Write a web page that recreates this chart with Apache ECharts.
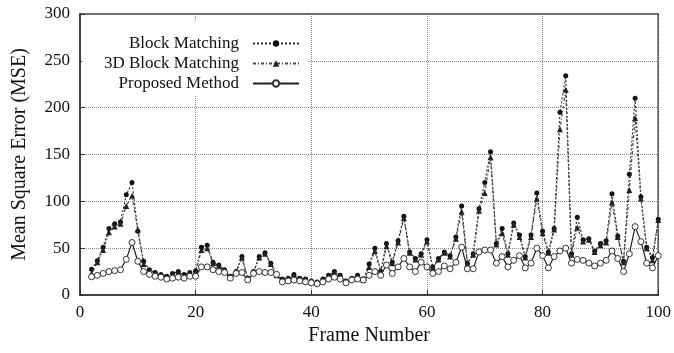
<!DOCTYPE html>
<html>
<head>
<meta charset="utf-8">
<script src="https://cdn.jsdelivr.net/npm/echarts@6/dist/echarts.min.js"></script>
<style>
  html, body { margin: 0; padding: 0; background: #fff; }
  #main { width: 674px; height: 353px; }
</style>
</head>
<body>
<div id="main"></div>
<script>
// frames 2..100
const frames = [];
for (let f = 2; f <= 100; f++) frames.push(f);

const blockMatching = [
  27.6, 36.5, 51, 71, 76, 78, 107, 120, 68, 36,
  27, 24, 22, 20, 23, 25, 22, 24, 26, 51,
  53, 35, 32, 27, 20, 25, 41, 18, 25, 41,
  45, 34, 22, 17, 18, 22, 18, 17, 15, 14,
  17, 21, 25, 21, 15, 18, 21, 17, 33, 50,
  25, 55, 35, 58, 84, 46, 39, 44, 59, 30,
  39, 46, 42, 62, 95, 34, 44, 92, 120, 153,
  55, 71, 44, 77, 64, 41, 64, 109, 68, 46,
  71, 195, 234, 44, 83, 59, 60, 47, 55, 58,
  108, 63, 36, 129, 210, 105, 51, 40, 81
];
const blockMatching3D = [
  23, 35, 48, 67, 73, 76, 95, 106, 70, 33,
  25, 23, 21, 19, 22, 24, 21, 23, 25, 48,
  50, 34, 31, 26, 19, 24, 40, 17, 24, 40,
  44, 33, 21, 16, 17, 21, 17, 16, 14, 13,
  16, 20, 24, 20, 14, 17, 20, 16, 30, 47,
  24, 52, 34, 56, 82, 45, 38, 43, 57, 29,
  38, 45, 41, 60, 89, 33, 43, 90, 109, 147,
  54, 66, 43, 75, 62, 40, 62, 103, 66, 45,
  70, 177, 219, 43, 72, 57, 59, 46, 53, 56,
  99, 62, 35, 112, 189, 103, 50, 37, 80
];
const proposed = [
  19.5, 21, 23, 25, 26, 27, 38, 56, 36, 25,
  22, 20, 19, 17, 18, 19, 18, 20, 20, 30,
  30, 27, 25, 24, 18, 23, 24, 16, 23, 25,
  24, 24, 22, 14, 15, 16, 15, 14, 13, 12,
  14, 17, 19, 17, 13, 16, 17, 16, 21, 25,
  21, 32, 23, 30, 39, 30, 25, 35, 30, 23,
  25, 31, 28, 35, 51, 28, 28, 46, 48, 48,
  34, 41, 30, 37, 42, 29, 34, 50, 42, 29,
  41, 47, 50, 34, 38, 37, 34, 31, 34, 37,
  47, 39, 25, 44, 73, 57, 34, 29, 42
];

const pairs = (ys) => frames.map((f, i) => [f, ys[i]]);
const serif = 'Liberation Serif';

let myChart = echarts.init(document.getElementById('main'));
myChart.setOption({
  animation: false,
  backgroundColor: '#fff',
  textStyle: { fontFamily: serif },
  grid: {
    left: 80, right: 14, top: 14, bottom: 58,
    show: true, borderColor: '#333', borderWidth: 1.5
  },
  // white box behind the legend hides the grid lines there
  graphic: [{
    type: 'rect',
    shape: { x: 82, y: 21, width: 225, height: 75 },
    style: { fill: '#fff' },
    z: 1
  }],
  legend: [
    { name: 'Block Matching', top: 35 },
    { name: '3D Block Matching', top: 55 },
    { name: 'Proposed Method', top: 75 }
  ].map(l => ({
    data: [l.name],
    top: l.top,
    right: 374,
    align: 'right',
    itemWidth: 46,
    itemHeight: 8,
    padding: 0,
    textStyle: { fontFamily: serif, fontSize: 17, color: '#111', padding: [0, 9, 0, 0] }
  })),
  xAxis: {
    type: 'value',
    min: 0, max: 100, interval: 20,
    name: 'Frame Number',
    nameLocation: 'middle',
    nameGap: 30,
    nameTextStyle: { fontFamily: serif, fontSize: 20, color: '#111' },
    axisLine: { lineStyle: { color: '#333', width: 1.5 } },
    axisTick: { inside: true, length: 5, lineStyle: { color: '#333' } },
    axisLabel: { fontFamily: serif, fontSize: 17, color: '#111', margin: 9 },
    splitLine: { show: true, lineStyle: { type: 'dotted', color: '#888' } }
  },
  yAxis: {
    type: 'value',
    min: 0, max: 300, interval: 50,
    name: 'Mean Square Error (MSE)',
    nameLocation: 'middle',
    nameGap: 50,
    nameTextStyle: { fontFamily: serif, fontSize: 20, color: '#111' },
    axisLine: { show: true, lineStyle: { color: '#333', width: 1.5 } },
    axisTick: { show: true, inside: true, length: 5, lineStyle: { color: '#333' } },
    axisLabel: { fontFamily: serif, fontSize: 17, color: '#111', margin: 10 },
    splitLine: { show: true, lineStyle: { type: 'dotted', color: '#888' } }
  },
  series: [{
    name: 'Block Matching',
    type: 'line',
    data: pairs(blockMatching),
    symbol: 'circle',
    symbolSize: 5,
    itemStyle: { color: '#111' },
    lineStyle: { color: '#333', width: 1.2, type: [2, 2] }
  }, {
    name: '3D Block Matching',
    type: 'line',
    data: pairs(blockMatching3D),
    symbol: 'triangle',
    symbolSize: 6,
    itemStyle: { color: '#222' },
    lineStyle: { color: '#444', width: 1.2, type: [3, 2, 1, 2] }
  }, {
    name: 'Proposed Method',
    type: 'line',
    data: pairs(proposed),
    symbol: 'circle',
    symbolSize: 6,
    itemStyle: { color: '#fff', borderColor: '#333', borderWidth: 1 },
    lineStyle: { color: '#222', width: 1.2 }
  }]
});
</script>
</body>
</html>
